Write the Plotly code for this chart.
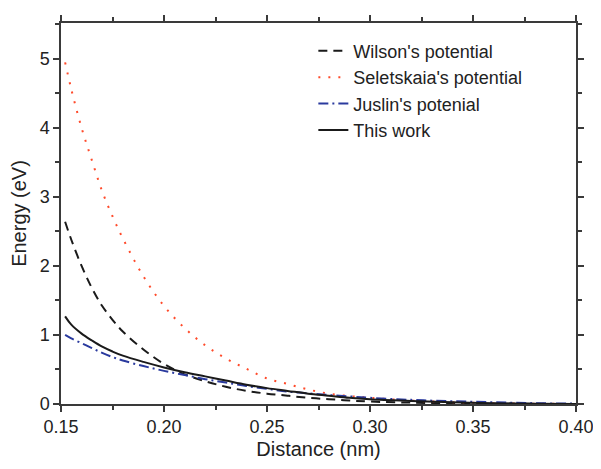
import plotly.graph_objects as go

distance = [0.152, 0.155, 0.16, 0.165, 0.17, 0.175, 0.18, 0.19, 0.20, 0.21, 0.22, 0.23,
            0.24, 0.25, 0.26, 0.27, 0.28, 0.29, 0.30, 0.32, 0.34, 0.36, 0.38, 0.40]
wilson = [2.64, 2.38, 2.00, 1.68, 1.42, 1.22, 1.05, 0.79, 0.58, 0.43, 0.33, 0.25,
          0.19, 0.15, 0.12, 0.09, 0.07, 0.05, 0.035, 0.02, 0.01, 0.005, 0.002, 0.0]
seletskaia = [4.95, 4.56, 4.00, 3.53, 3.08, 2.72, 2.40, 1.85, 1.42, 1.10, 0.85, 0.66,
              0.51, 0.37, 0.29, 0.21, 0.15, 0.115, 0.09, 0.05, 0.025, 0.012, 0.005, 0.0]
juslin = [1.00, 0.95, 0.88, 0.81, 0.74, 0.68, 0.63, 0.55, 0.48, 0.42, 0.36, 0.31,
          0.26, 0.22, 0.18, 0.155, 0.13, 0.11, 0.09, 0.06, 0.04, 0.025, 0.012, 0.005]
this_work = [1.27, 1.15, 1.02, 0.92, 0.83, 0.76, 0.70, 0.61, 0.53, 0.46, 0.40, 0.34,
             0.28, 0.23, 0.19, 0.15, 0.12, 0.09, 0.07, 0.045, 0.025, 0.012, 0.005, 0.0]

FONT = "Liberation Sans, Arial, sans-serif"

fig = go.Figure()
fig.add_trace(go.Scatter(x=distance, y=wilson, mode="lines", name="Wilson's potential",
                         line=dict(color="#1a1a1a", width=2, dash="9px,6px", shape="spline")))
fig.add_trace(go.Scatter(x=distance, y=seletskaia, mode="lines", name="Seletskaia's potential",
                         line=dict(color="#ff4a2a", width=2, dash="2px,8px", shape="spline")))
fig.add_trace(go.Scatter(x=distance, y=juslin, mode="lines", name="Juslin's potenial",
                         line=dict(color="#2a3a9e", width=2, dash="10px,4px,2px,4px", shape="spline")))
fig.add_trace(go.Scatter(x=distance, y=this_work, mode="lines", name="This work",
                         line=dict(color="#1a1a1a", width=2, shape="spline")))

axis_common = dict(showline=True, linecolor="#3a3a3a", linewidth=1.5, mirror="ticks",
                   ticks="outside", ticklen=6, tickwidth=1.5, tickcolor="#3a3a3a",
                   showgrid=False, zeroline=False,
                   tickfont=dict(family=FONT, size=18, color="#222"))

fig.update_xaxes(range=[0.15, 0.40], tickvals=[0.15, 0.20, 0.25, 0.30, 0.35, 0.40],
                 ticktext=["0.15", "0.20", "0.25", "0.30", "0.35", "0.40"],
                 minor=dict(dtick=0.025, tick0=0.15, ticks="outside", ticklen=4, tickwidth=1.5,
                            tickcolor="#3a3a3a"),
                 title=dict(text="Distance (nm)", font=dict(family=FONT, size=20, color="#222"),
                            standoff=6),
                 **axis_common)
fig.update_yaxes(range=[0, 5.52], tickvals=[0, 1, 2, 3, 4, 5],
                 minor=dict(dtick=0.5, tick0=0, ticks="outside", ticklen=4, tickwidth=1.5,
                            tickcolor="#3a3a3a"),
                 title=dict(text="Energy (eV)", font=dict(family=FONT, size=20, color="#222"),
                            standoff=8),
                 **axis_common)

# page body has an 8px default margin, so the figure is offset by 8px
fig.update_layout(
    width=593, height=461,
    margin=dict(l=53, r=19, t=7, b=65),
    plot_bgcolor="white", paper_bgcolor="white",
    legend=dict(x=0.49, y=0.975, xanchor="left", yanchor="top", bgcolor="rgba(0,0,0,0)",
                font=dict(family=FONT, size=18, color="#222"),
                tracegroupgap=0),
)

fig.write_html("out.html")
